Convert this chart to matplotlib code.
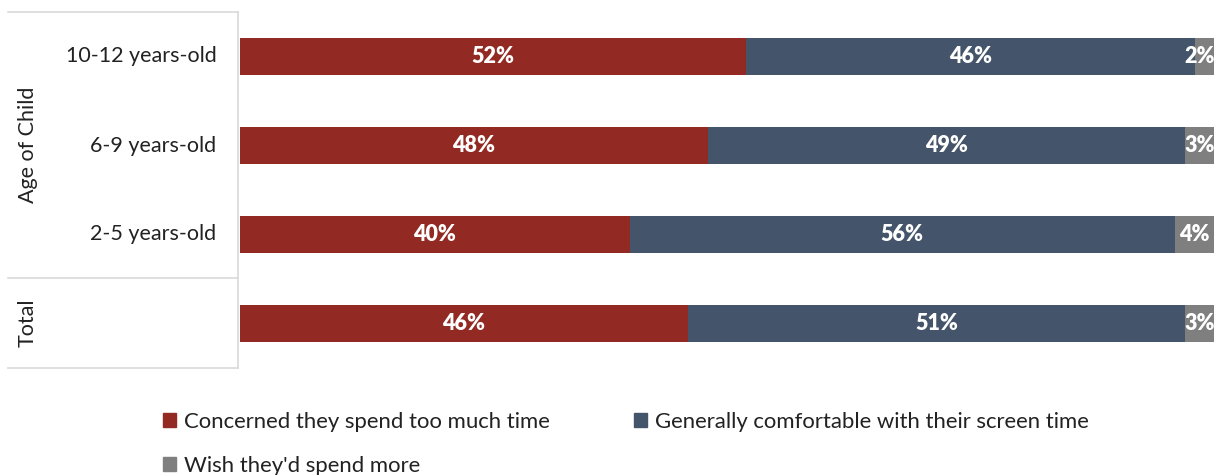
import numpy as np
import matplotlib.pyplot as plt
from matplotlib.patches import Patch
from matplotlib.lines import Line2D

plt.rcParams['font.family'] = ['Lato', 'DejaVu Sans']

# data (bottom to top)
groups = ["Total", "2-5 years-old", "6-9 years-old", "10-12 years-old"]
concerned = [46, 40, 48, 52]
comfortable = [51, 56, 49, 46]
wish_more = [3, 4, 3, 2]
series_names = ["Concerned they spend too much time",
                "Generally comfortable with their screen time",
                "Wish they'd spend more"]
colors = ["#922A23", "#44546A", "#7F7F7F"]

fig = plt.figure(figsize=(12.14, 4.75), dpi=100)
ax = fig.add_axes([240 / 1214, 1 - 368 / 475, 974 / 1214, 356 / 475])

y = np.arange(len(groups))
left = np.zeros(len(groups))
for vals, c in zip([concerned, comfortable, wish_more], colors):
    vals = np.array(vals, dtype=float)
    ax.barh(y, vals, left=left, height=0.405, color=c)
    for yi, l, v in zip(y, left, vals):
        xc = min(l + v / 2, 100 - 1.5)
        ax.text(xc, yi, f"{int(v)}%", ha="center", va="center",
                color="white", fontsize=15.5, fontweight="heavy")
    left += vals

ax.set_xlim(0, 100)
ax.set_ylim(-0.5, 3.5)
ax.axis("off")

# category labels
for yi, g in zip(y, groups):
    if g != "Total":
        ax.text(-2.4, yi, g, ha="right", va="center", fontsize=15.5, color="#222222")

# group box lines on the left
line_c = "#D9D9D9"
x0 = 8 / 1214
x1 = 238 / 1214
fig.add_artist(Line2D([x0, x1], [1 - 12 / 475] * 2, color=line_c, lw=1.2))
fig.add_artist(Line2D([x0, x1], [1 - 368 / 475] * 2, color=line_c, lw=1.2))
fig.add_artist(Line2D([x0, x1], [1 - 278 / 475] * 2, color=line_c, lw=1.2))
fig.add_artist(Line2D([x1, x1], [1 - 12 / 475, 1 - 368 / 475], color=line_c, lw=1.2))

fig.text(28 / 1214, 1 - 145 / 475, "Age of Child", rotation=90, ha="center",
         va="center", fontsize=15.5, color="#222222")
fig.text(28 / 1214, 1 - 323 / 475, "Total", rotation=90, ha="center",
         va="center", fontsize=15.5, color="#222222")

handles = [Patch(color=c) for c in colors]
order = [0, 2, 1]
fig.legend([handles[i] for i in order], [series_names[i] for i in order],
           ncol=2, loc="upper left", bbox_to_anchor=(143 / 1214, 1 - 392 / 475),
           frameon=False, fontsize=15.9, handlelength=0.6, handleheight=0.6,
           handletextpad=0.35, columnspacing=3.8, labelspacing=1.1,
           labelcolor="#222222")

fig.savefig("out.png", dpi=100)
